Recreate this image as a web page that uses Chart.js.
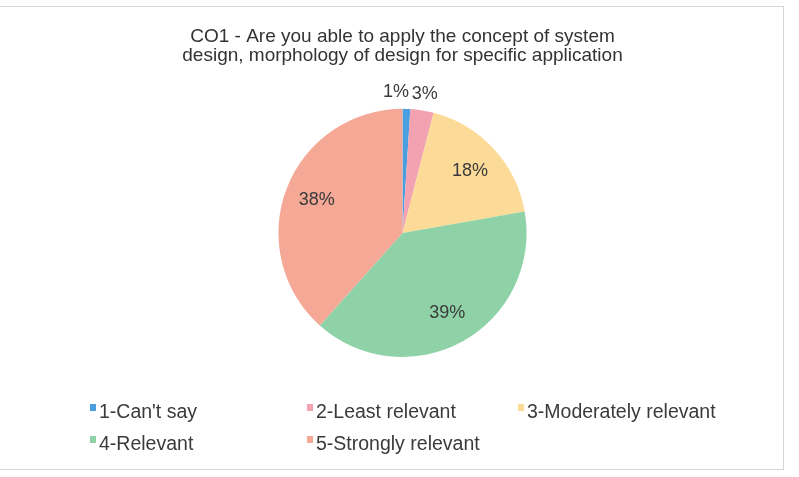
<!DOCTYPE html>
<html>
<head>
<meta charset="utf-8">
<script src="https://cdn.jsdelivr.net/npm/chart.js@4"></script>
<style>
    body { margin: 0; background: #fff; font-family: "Liberation Sans", Arial, sans-serif; }
    #wrap { position: relative; width: 799px; height: 477px; overflow: hidden; }
    #frame { position: absolute; left: -2px; top: 6px; width: 786px; height: 464px; border: 1px solid #d6d6d6; box-sizing: border-box; }
    canvas { position: absolute; left: 0; top: 0; }
    .box { position: absolute; width: 6px; height: 7px; }
    .lbl { position: absolute; font-size: 19.5px; line-height: 22px; color: #3a3a3a; white-space: nowrap; }
</style>
</head>
<body>
<div id="wrap">
    <div id="frame"></div>
    <canvas id="resultChart" width="799" height="477"></canvas>
    <div id="legend"></div>
</div>
<script>
const categories = ['1-Can\'t say', '2-Least relevant', '3-Moderately relevant', '4-Relevant', '5-Strongly relevant'];
const percents = [1, 3, 18, 39, 38];
const sliceColors = ['#4a9fe0', '#f2a2b0', '#fcdb98', '#8fd2a8', '#f5a896'];
const titleLines = ['CO1 - Are you able to apply the concept of system', 'design, morphology of design for specific application'];

// legend in two rows of columns, like the original
const legendSpots = [[90, 400], [307, 400], [518, 400], [90, 432], [307, 432]];
const legendBox = document.getElementById('legend');
categories.forEach((name, i) => {
    const [x, y] = legendSpots[i];
    const sq = document.createElement('div');
    sq.className = 'box';
    sq.style.left = x + 'px';
    sq.style.top = (y + 4) + 'px';
    sq.style.background = sliceColors[i];
    legendBox.appendChild(sq);
    const t = document.createElement('div');
    t.className = 'lbl';
    t.style.left = (x + 9) + 'px';
    t.style.top = y + 'px';
    t.textContent = name;
    legendBox.appendChild(t);
});

const pctLabels = {
    id: 'pctLabels',
    afterDatasetsDraw(chart) {
        const ctx = chart.ctx;
        const meta = chart.getDatasetMeta(0);
        ctx.save();
        ctx.font = '18px "Liberation Sans", Arial, sans-serif';
        ctx.fillStyle = '#3a3a3a';
        ctx.textBaseline = 'middle';
        meta.data.forEach((arc, i) => {
            const mid = (arc.startAngle + arc.endAngle) / 2;
            const small = percents[i] < 5;
            const r = small ? arc.outerRadius + 17 : arc.outerRadius * 0.74;
            let x = arc.x + Math.cos(mid) * r;
            const y = arc.y + Math.sin(mid) * r;
            ctx.textAlign = 'center';
            if (small && i === 0) {
                ctx.textAlign = 'right';
                x += 2;
            }
            ctx.fillText(percents[i] + '%', x, y);
        });
        ctx.restore();
    }
};

const ctx = document.getElementById('resultChart').getContext('2d');
new Chart(ctx, {
    type: 'pie',
    data: {
        labels: categories,
        datasets: [{
            data: percents,
            backgroundColor: sliceColors,
            borderWidth: 0
        }]
    },
    options: {
        responsive: false,
        animation: false,
        layout: { padding: { left: 6, right: 0, top: 0, bottom: 120 } },
        plugins: {
            legend: { display: false },
            tooltip: { enabled: false },
            title: {
                display: true,
                text: titleLines,
                color: '#333',
                font: { family: '"Liberation Sans", Arial, sans-serif', size: 19, weight: 'normal', lineHeight: 0.97 },
                padding: { top: 28, bottom: 44 }
            }
        }
    },
    plugins: [pctLabels]
});
</script>
</body>
</html>
